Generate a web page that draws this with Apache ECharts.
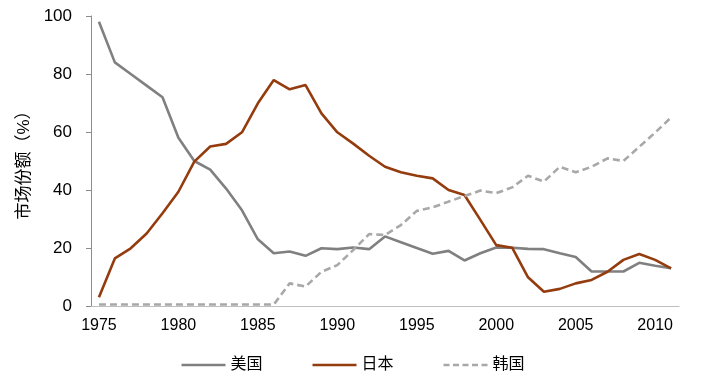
<!DOCTYPE html>
<html><head><meta charset="utf-8">
<script src="https://cdn.jsdelivr.net/npm/echarts@6/dist/echarts.min.js"></script>
<style>html,body{margin:0;padding:0;background:#fff}#c{width:706px;height:388px}</style>
</head><body><div id="c"></div>
<script>
const years = [];
for (let y = 1975; y <= 2011; y++) years.push(String(y));
const usShare = [98,84,80,76,72,58,50,47,40.5,33,23,18.2,18.8,17.3,19.9,19.6,20.2,19.6,24,22,20,18,19,15.7,18.2,20.2,20.1,19.7,19.6,18.2,16.9,11.9,11.9,11.9,14.9,13.9,13];
const japanShare = [3,16.4,19.9,25,32,39.4,49.8,55,55.9,59.9,69.9,77.9,74.7,76.2,66.4,59.9,56,51.8,48,46.1,44.9,44,40,38.3,29.7,21,20.1,9.9,4.9,5.9,7.8,9,11.8,15.9,17.9,15.9,13];
const koreaShare = [0.5,0.5,0.5,0.5,0.5,0.5,0.5,0.5,0.5,0.5,0.5,0.5,7.8,6.7,11.8,14.1,19.3,24.8,24.5,27.9,32.8,34,36,37.9,39.8,38.9,40.9,44.9,42.9,48,46.1,48,50.9,50,54.9,59.8,65];
const seriesNames = ['美国','日本','韩国'];
const yTicks = [0,20,40,60,80,100];

const font = 'Liberation Sans, Arial, Noto Sans CJK SC, sans-serif';
const solidIcon = 'path://M0,4 L44,4 L44,6.5 L0,6.5 Z';
const dashIcon = 'path://M0,4 L6,4 L6,6.5 L0,6.5 Z M9.5,4 L15.5,4 L15.5,6.5 L9.5,6.5 Z M19,4 L25,4 L25,6.5 L19,6.5 Z M28.5,4 L34.5,4 L34.5,6.5 L28.5,6.5 Z M38,4 L44,4 L44,6.5 L38,6.5 Z';
const chart = echarts.init(document.getElementById('c'));
chart.setOption({
  animation: false,
  grid: {left: 91, right: 27, top: 16, bottom: 82},
  legend: {
    bottom: 10, left: 'center', itemWidth: 44, itemHeight: 10, itemGap: 50,
    textStyle: {fontFamily: font, fontSize: 16, color: '#000', padding: [0, 0, 0, 0]},
    data: [
      {name: seriesNames[0], icon: solidIcon},
      {name: seriesNames[1], icon: solidIcon},
      {name: seriesNames[2], icon: dashIcon}
    ]
  },
  xAxis: {
    type: 'category', data: years, boundaryGap: true,
    axisLine: {lineStyle: {color: '#bfbfbf', width: 1}},
    axisTick: {interval: 4, length: 5, lineStyle: {color: '#bfbfbf'}},
    axisLabel: {interval: 4, color: '#000', fontSize: 16, fontFamily: font, margin: 12}
  },
  yAxis: {
    type: 'value', min: 0, max: 100, interval: 20,
    name: '市场份额（%）', nameLocation: 'middle', nameGap: 55, nameRotate: 90,
    nameTextStyle: {color: '#000', fontSize: 17, fontFamily: font},
    splitLine: {show: false},
    axisLine: {show: true, lineStyle: {color: '#8c8c8c'}},
    axisTick: {show: true, length: 5, lineStyle: {color: '#8c8c8c'}},
    axisLabel: {color: '#000', fontSize: 17, fontFamily: font, margin: 19,
      formatter: v => yTicks.includes(v) ? String(v) : ''}
  },
  series: [
    {name: seriesNames[0], type: 'line', data: usShare, symbol: 'none',
     lineStyle: {color: '#808080', width: 2.6}, itemStyle: {color: '#808080'}},
    {name: seriesNames[1], type: 'line', data: japanShare, symbol: 'none',
     lineStyle: {color: '#943c0e', width: 2.6}, itemStyle: {color: '#943c0e'}},
    {name: seriesNames[2], type: 'line', data: koreaShare, symbol: 'none',
     lineStyle: {color: '#a8a8a8', width: 2.6, type: [7, 4]}, itemStyle: {color: '#a8a8a8'}}
  ]
});
</script></body></html>
